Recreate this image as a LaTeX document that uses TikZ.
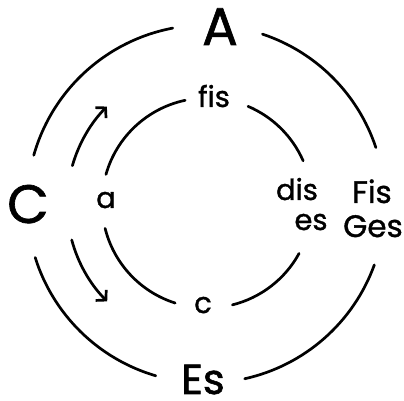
\documentclass[tikz,border=0pt]{standalone}
\usepackage{fontspec}
\setmainfont{Poppins}[FakeBold=1.2]
\usetikzlibrary{arrows.meta}
\begin{document}
\begin{tikzpicture}[x=1pt,y=1pt,
  ring/.style={line width=2.7pt, line cap=round},
  arr/.style={ring, -{Straight Barb[length=7pt,width=15pt]}},
  lab/.style={inner sep=0pt, text=black, anchor=base},
  huge/.style={lab, font=\fontsize{54}{54}\selectfont},
  big/.style={lab, font=\fontsize{53}{53}\selectfont},
  bigb/.style={lab, font=\fontsize{42}{42}\selectfont},
  mid/.style={lab, font=\fontsize{31}{31}\selectfont},
  small/.style={lab, font=\fontsize{29}{29}\selectfont}]
\useasboundingbox (0,0) rectangle (404,401);
\coordinate (O) at (206,197);
\coordinate (I) at (207,198);
% outer circle
\draw[ring] ([shift={(100.7:179)}]O) arc[start angle=100.7, end angle=164.2, radius=179];
\draw[ring] ([shift={(71.6:179)}]O) arc[start angle=71.6, end angle=18.4, radius=179];
\draw[ring] ([shift={(197.4:179)}]O) arc[start angle=197.4, end angle=253.7, radius=179];
\draw[ring] ([shift={(282.5:179)}]O) arc[start angle=282.5, end angle=340.1, radius=179];
% inner circle
\draw[ring] ([shift={(102:105)}]I) arc[start angle=102, end angle=164.2, radius=105];
\draw[ring] ([shift={(67:105)}]I) arc[start angle=67, end angle=23.7, radius=105];
\draw[ring] ([shift={(194:105)}]I) arc[start angle=194, end angle=252.3, radius=105];
\draw[ring] ([shift={(284:105)}]I) arc[start angle=284, end angle=331.3, radius=105];
% arrows
\draw[arr] ([shift={(164:139)}]O) arc[start angle=164, end angle=135.5, radius=139];
\draw[arr] ([shift={(195:139)}]O) arc[start angle=195, end angle=225, radius=137];
% outer labels
\node[big] (A) at (220,356) {A};
\node[huge] (C) at (28,178) {C};
\node[bigb] (Es) at (203,7) {Es};
\node[mid] (Fis) at (372,198) {Fis};
\node[mid] (Ges) at (373,164) {Ges};
% inner labels
\node[small] (fis) at (214,294) {fis};
\node[small] (dis) at (297,201) {dis};
\node[small] (es) at (311,171) {es};
\node[small] (a) at (106,193) {a};
\node[small] (c) at (203,88) {c};
\end{tikzpicture}
\end{document}
